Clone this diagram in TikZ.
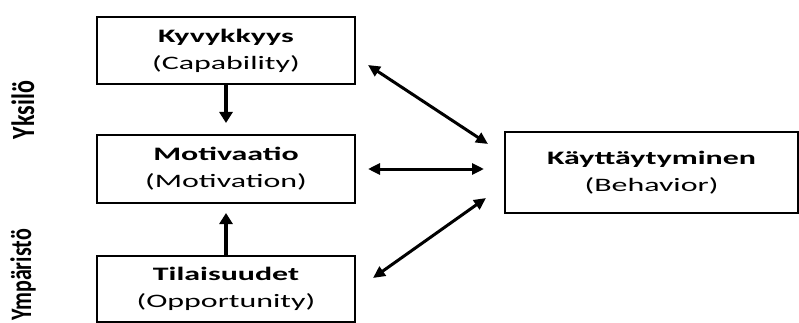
\documentclass[tikz,border=0pt]{standalone}
\usepackage{fontspec}
\usepackage{graphicx}
\setmainfont{Carlito}
\usetikzlibrary{arrows.meta}
\newcommand\wide[1]{\scalebox{1.68}[1]{#1}}
\newcommand\tall[1]{\scalebox{1}[1.35]{#1}}
\begin{document}
\begin{tikzpicture}[x=1pt,y=-1pt,
  box/.style={draw, line width=2pt, minimum width=258pt, minimum height=67pt,
    inner sep=0pt, align=center, font=\fontsize{19}{27}\selectfont},
  vconn/.style={line width=3.6pt, -{Triangle[length=11pt,width=13pt]}},
  dconn/.style={line width=3pt, {Triangle[length=12pt,width=11pt]}-{Triangle[length=12pt,width=11pt]}},
  side/.style={rotate=90, inner sep=0pt, font=\bfseries}
]
\useasboundingbox (0,0) rectangle (799,323);
\node[box] (K) at (226,50.5) {\wide{\bfseries Kyvykkyys}\\\wide{(Capability)}};
\node[box, minimum height=68pt] (M) at (226,169) {\wide{\bfseries Motivaatio}\\\wide{(Motivation)}};
\node[box, minimum height=66pt] (T) at (226,289) {\wide{\bfseries Tilaisuudet}\\\wide{(Opportunity)}};
\node[box, minimum width=293pt, minimum height=81pt] (B) at (651.5,172.5) {\wide{\bfseries Käyttäytyminen}\\\wide{(Behavior)}};
\node[side, font=\fontsize{24}{24}\selectfont\bfseries] (Y1) at (23,110) {\tall{Yksilö}};
\node[side, font=\fontsize{22}{22}\selectfont\bfseries] (Y2) at (23,275) {\tall{Ympäristö}};
\coordinate (kb1) at (368,65);
\coordinate (kb2) at (488,144);
\coordinate (mb1) at (368,169);
\coordinate (mb2) at (484,169);
\coordinate (tb1) at (373,278);
\coordinate (tb2) at (486,198);
\draw[vconn, shorten >=11pt] (K) -- (M);
\draw[vconn, shorten >=9pt] (T) -- (M);
\draw[dconn] (kb1) -- (kb2);
\draw[dconn] (mb1) -- (mb2);
\draw[dconn] (tb1) -- (tb2);
\end{tikzpicture}
\end{document}
